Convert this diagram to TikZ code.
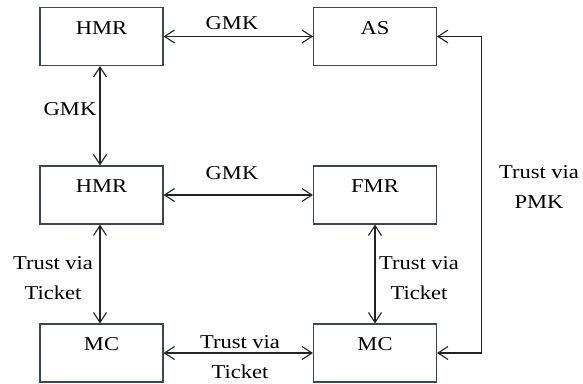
\documentclass[tikz,border=0pt]{standalone}
\usepackage{fontspec}
\setmainfont[FakeStretch=1.15]{Liberation Serif}
\usetikzlibrary{arrows.meta}
\definecolor{boxline}{HTML}{3E4650}
\definecolor{wire}{HTML}{222222}
\begin{document}
\begin{tikzpicture}[x=1pt,y=-1pt,
  font=\fontsize{19.6}{30}\selectfont,
  entity/.style={draw=boxline, line width=1.1pt, minimum width=123pt,
    inner xsep=0pt, inner ysep=0pt, text height=26.5pt, text depth=31.5pt},
  link/.style={wire, line width=1.1pt, {Straight Barb[length=10pt,width=13pt]}-{Straight Barb[length=10pt,width=13pt]}},
  tag/.style={inner sep=0pt, align=center}]
\useasboundingbox (0,0) rectangle (583,383);

% entities
\node[entity] (hmrtop) at (101.5,36.5) {HMR};
\node[entity] (as)     at (375,36.5)   {AS};
\node[entity] (hmrmid) at (101.5,195)  {HMR};
\node[entity] (fmr)    at (375,195)    {FMR};
\node[entity] (mcl)    at (101.5,353)  {MC};
\node[entity] (mcr)    at (375,353)    {MC};

% links between entities
\draw[link] (hmrtop.east) -- (as.west);
\draw[link] (hmrtop.south -| 100,0) -- (hmrmid.north -| 100,0);
\draw[link] (hmrmid.east) -- (fmr.west);
\draw[link] (hmrmid.south -| 100,0) -- (mcl.north -| 100,0);
\draw[link] (fmr.south) -- (mcr.north);
\draw[link] (mcl.east) -- (mcr.west);
\draw[link] (as.east) -- ++(44,0) |- (mcr.east);

% link labels
\node[tag] (l1) at (232,23.5) {GMK};
\node[tag] (l2) at (70,109) {GMK};
\node[tag] (l3) at (232,173) {GMK};
\node[tag] (l4) at (53,278) {Trust via\\Ticket};
\node[tag] (l5) at (419,278) {Trust via\\Ticket};
\node[tag] (l6) at (240,357.5) {Trust via\\Ticket};
\node[tag] (l7) at (539,187) {Trust via\\PMK};
\end{tikzpicture}
\end{document}
